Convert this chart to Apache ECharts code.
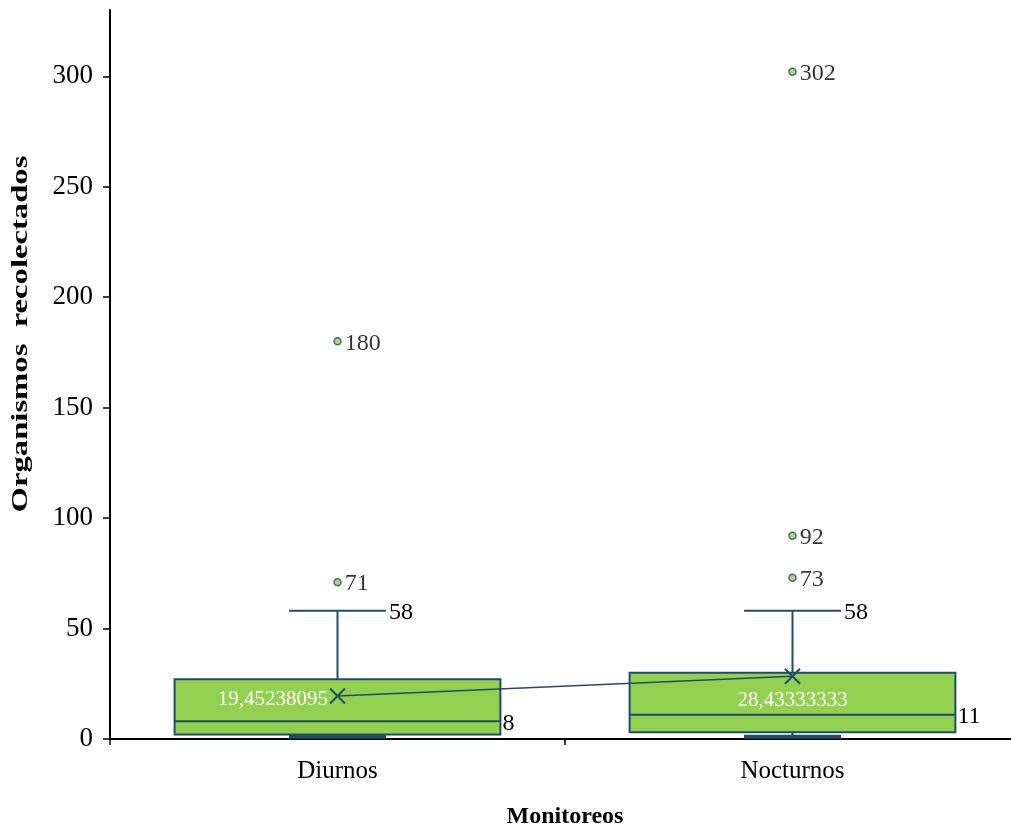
<!DOCTYPE html>
<html><head><meta charset="utf-8">
<script src="https://cdn.jsdelivr.net/npm/echarts@6/dist/echarts.min.js"></script>
<style>html,body{margin:0;padding:0;background:#fff}#c{width:1011px;height:834px}</style>
</head><body><div id="c"></div>
<script>
const categories = ['Diurnos', 'Nocturnos'];
// [min, Q1, median, Q3, max]
const boxStats = [
  [1, 2, 8, 27, 58],
  [1, 3, 11, 30, 58]
];
const means = [19.45238095, 28.43333333];
const outliers = [[0, 180], [0, 71], [1, 302], [1, 92], [1, 73]];
const yTicks = { min: 0, max: 330, interval: 50 };
const yTitle = 'Organismos  recolectados';
const xTitle = 'Monitoreos';

const STROKE = '#1E4D6B';
const FILL = '#92D050';
const FONT = "Liberation Serif";

const chart = echarts.init(document.getElementById('c'), null, { renderer: 'canvas' });

function renderBox(params, api) {
  const ci = api.value(0);
  const xc = api.coord([ci, 0])[0];
  const band = api.size([1, 0])[0];
  const bw = band * 0.716, cw = band * 0.213;
  const yMin = api.coord([ci, api.value(1)])[1];
  const yQ1 = api.coord([ci, api.value(2)])[1];
  const yMed = api.coord([ci, api.value(3)])[1];
  const yQ3 = api.coord([ci, api.value(4)])[1];
  const yMax = api.coord([ci, api.value(5)])[1];
  const ls = { stroke: STROKE, lineWidth: 2 };
  return {
    type: 'group',
    children: [
      { type: 'line', shape: { x1: xc, y1: yQ3, x2: xc, y2: yMax }, style: ls },
      { type: 'line', shape: { x1: xc, y1: yQ1, x2: xc, y2: yMin }, style: ls },
      { type: 'line', shape: { x1: xc - cw / 2, y1: yMax, x2: xc + cw / 2, y2: yMax }, style: ls },
      { type: 'line', shape: { x1: xc - cw / 2, y1: yMin, x2: xc + cw / 2, y2: yMin }, style: { stroke: STROKE, lineWidth: 4 } },
      { type: 'rect', shape: { x: xc - bw / 2, y: yQ3, width: bw, height: yQ1 - yQ3 }, style: { fill: FILL, stroke: STROKE, lineWidth: 2 } },
      { type: 'line', shape: { x1: xc - bw / 2, y1: yMed, x2: xc + bw / 2, y2: yMed }, style: ls },
      { type: 'text', style: { text: String(api.value(5)), x: xc + cw / 2 + 3, y: yMax + 2, fill: '#000', fontSize: 24, fontFamily: FONT, align: 'left', verticalAlign: 'middle' } },
      { type: 'text', style: { text: String(api.value(3)), x: xc + bw / 2 + 2, y: yMed + 2, fill: '#000', fontSize: 24, fontFamily: FONT, align: 'left', verticalAlign: 'middle' } }
    ]
  };
}

chart.setOption({
  animation: false,
  grid: { left: 110, right: -9, top: 10, bottom: 95, containLabel: false, outerBoundsMode: 'none' },
  graphic: [{
    type: 'text',
    x: 21, y: 334,
    rotation: Math.PI / 2,
    scaleX: 1.42,
    style: { text: yTitle, fontFamily: FONT, fontSize: 23, fontWeight: 'bold', fill: '#000', align: 'center', verticalAlign: 'middle' }
  }],
  xAxis: {
    type: 'category',
    data: categories,
    name: xTitle,
    nameLocation: 'middle',
    nameGap: 66,
    nameTextStyle: { fontFamily: FONT, fontSize: 24, fontWeight: 'bold', color: '#000' },
    axisLine: { lineStyle: { color: '#000', width: 2 } },
    axisTick: { show: true, length: 6, lineStyle: { color: '#000', width: 1.5 } },
    axisLabel: { fontFamily: FONT, fontSize: 25, color: '#000', margin: 20 },
    splitLine: { show: false }
  },
  yAxis: {
    type: 'value',
    min: yTicks.min, max: yTicks.max, interval: yTicks.interval,
    axisLine: { show: true, lineStyle: { color: '#000', width: 2 } },
    axisTick: { show: true, length: 7, lineStyle: { color: '#000', width: 1.5 } },
    axisLabel: { fontFamily: FONT, fontSize: 27, color: '#000', margin: 17, showMaxLabel: false },
    splitLine: { show: false }
  },
  series: [
    {
      type: 'custom',
      renderItem: renderBox,
      data: boxStats.map((s, i) => [i].concat(s)),
      encode: { x: 0, y: [1, 2, 3, 4, 5] },
      z: 2
    },
    {
      type: 'line',
      symbol: 'path://M0,0L10,10M10,0L0,10',
      symbolSize: 15,
      itemStyle: { color: 'rgba(0,0,0,0)', borderColor: STROKE, borderWidth: 2 },
      lineStyle: { color: STROKE, width: 1.5 },
      label: {
        show: true, color: '#fff', fontFamily: FONT, fontSize: 21,
        formatter: p => String(p.value).replace('.', ',')
      },
      data: means.map((v, i) => ({
        value: v,
        label: i === 0 ? { position: 'left', distance: 1, offset: [0, 3] } : { position: 'bottom', distance: 5 }
      })),
      z: 5
    },
    {
      type: 'scatter',
      data: outliers,
      symbol: 'circle',
      symbolSize: 7,
      itemStyle: { color: FILL, borderColor: STROKE, borderWidth: 1.5 },
      label: {
        show: true, position: 'right', distance: 3, offset: [0, 2], color: '#000', fontFamily: FONT, fontSize: 24,
        formatter: p => String(p.value[1])
      },
      z: 4
    }
  ]
});
</script></body></html>
